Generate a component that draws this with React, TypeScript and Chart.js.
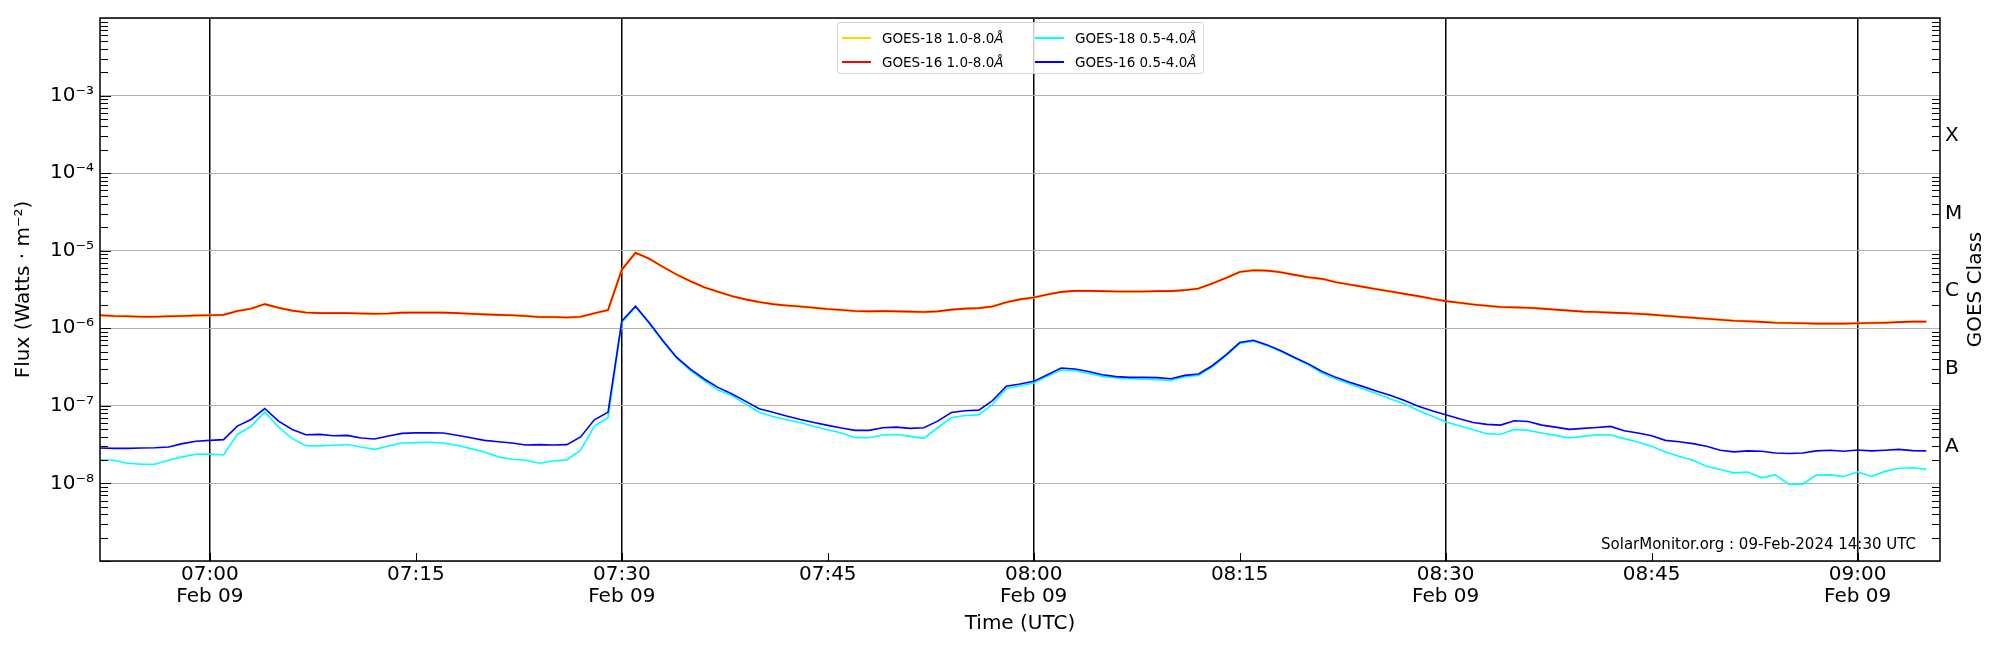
import { useEffect, useRef } from "react"
import { Chart, registerables } from "chart.js"

Chart.register(...registerables)

// one sample per minute, starting at 06:52 UTC on Feb 09
const startTime = "06:52"
const endTime = "09:06"
const dateLabel = "Feb 09"
const tickTimes = ["07:00", "07:15", "07:30", "07:45", "08:00", "08:15", "08:30", "08:45", "09:00"]
const yExponents = [-8, -7, -6, -5, -4, -3]
const classLabels = ["A", "B", "C", "M", "X"]
const classLevels = [3e-8, 3e-7, 3e-6, 3e-5, 3e-4]

// GOES-16 1.0-8.0 Å, in units of 1e-6 W/m²
const goes16Long = [
  1.47, 1.44, 1.43, 1.41, 1.41, 1.43, 1.44, 1.46, 1.47, 1.49,
  1.67, 1.79, 2.05, 1.84, 1.69, 1.6, 1.57, 1.57, 1.57, 1.55,
  1.54, 1.55, 1.59, 1.59, 1.59, 1.59, 1.57, 1.54, 1.51, 1.49,
  1.47, 1.44, 1.4, 1.4, 1.38, 1.41, 1.56, 1.72, 5.7, 9.43,
  7.89, 6.18, 4.92, 4.05, 3.39, 2.95, 2.6, 2.36, 2.18, 2.05,
  1.97, 1.91, 1.84, 1.77, 1.72, 1.67, 1.65, 1.67, 1.65, 1.64,
  1.62, 1.65, 1.74, 1.79, 1.82, 1.91, 2.16, 2.36, 2.49, 2.73,
  2.95, 3.04, 3.04, 3.01, 2.98, 2.98, 2.98, 3.01, 3.01, 3.1,
  3.26, 3.78, 4.46, 5.33, 5.6, 5.54, 5.27, 4.88, 4.55, 4.34,
  3.93, 3.66, 3.42, 3.19, 2.98, 2.78, 2.6, 2.4, 2.24, 2.13,
  2.03, 1.95, 1.88, 1.86, 1.84, 1.79, 1.74, 1.69, 1.64, 1.62,
  1.59, 1.57, 1.54, 1.5, 1.45, 1.41, 1.37, 1.33, 1.29, 1.25,
  1.23, 1.21, 1.18, 1.17, 1.16, 1.15, 1.15, 1.15, 1.16, 1.17,
  1.18, 1.2, 1.22, 1.22,
]

// GOES-18 1.0-8.0 Å lies right under the GOES-16 curve
const goes18Long = [...goes16Long]

// GOES-16 0.5-4.0 Å, in units of 1e-8 W/m²
const goes16Short = [
  2.86, 2.83, 2.83, 2.86, 2.88, 2.95, 3.26, 3.49, 3.59, 3.67,
  5.48, 6.68, 9.24, 6.36, 4.97, 4.25, 4.29, 4.12, 4.16, 3.85,
  3.74, 4.08, 4.42, 4.49, 4.51, 4.47, 4.17, 3.89, 3.59, 3.45,
  3.32, 3.13, 3.16, 3.13, 3.16, 3.97, 6.62, 8.29, 124, 193,
  118, 68.9, 42.1, 29.8, 22.2, 17.3, 14.3, 11.5, 9.16, 8.29,
  7.38, 6.68, 6.11, 5.6, 5.17, 4.83, 4.83, 5.22, 5.32, 5.12,
  5.22, 6.36, 8.22, 8.63, 8.8, 11.7, 17.9, 19.1, 20.7, 25.2,
  30.7, 29.8, 27.8, 25.2, 23.8, 23.3, 23.3, 23.1, 22.4, 24.7,
  25.7, 32.9, 45.5, 65.5, 70.2, 61.1, 51.2, 42.1, 34.8, 27.8,
  23.3, 20.1, 17.7, 15.4, 13.6, 11.7, 9.91, 8.63, 7.67, 6.81,
  6.11, 5.77, 5.65, 6.42, 6.3, 5.65, 5.32, 4.97, 5.12, 5.27,
  5.43, 4.78, 4.47, 4.12, 3.59, 3.45, 3.26, 3.01, 2.68, 2.55,
  2.63, 2.6, 2.47, 2.43, 2.47, 2.63, 2.68, 2.6, 2.7, 2.63,
  2.68, 2.75, 2.65, 2.63,
]

// GOES-18 0.5-4.0 Å, in units of 1e-8 W/m²
const goes18Short = [
  2.01, 1.99, 1.82, 1.77, 1.77, 1.99, 2.2, 2.38, 2.4, 2.33,
  4.28, 5.43, 8.29, 5.34, 3.78, 3.07, 3.04, 3.1, 3.17, 2.95,
  2.75, 3.04, 3.32, 3.36, 3.4, 3.32, 3.1, 2.81, 2.55, 2.2,
  2.05, 1.99, 1.82, 1.95, 2.01, 2.68, 5.43, 7.02, 118, 188,
  115, 66.8, 40.8, 28.4, 21.1, 16.0, 13.6, 10.6, 8.29, 7.3,
  6.62, 6.11, 5.43, 4.92, 4.47, 3.89, 3.89, 4.21, 4.28, 4.04,
  3.81, 5.22, 7.02, 7.52, 7.66, 10.4, 16.7, 18.0, 19.7, 24.0,
  29.0, 28.4, 26.2, 24.0, 22.9, 22.4, 22.0, 21.8, 21.3, 23.8,
  24.7, 31.9, 44.2, 63.5, 68.1, 59.4, 50.2, 41.2, 33.9, 26.2,
  22.2, 19.1, 16.5, 14.3, 12.3, 10.6, 8.71, 7.38, 6.18, 5.54,
  4.92, 4.38, 4.28, 4.97, 4.83, 4.47, 4.16, 3.85, 4.04, 4.25,
  4.21, 3.78, 3.42, 3.01, 2.55, 2.24, 1.99, 1.67, 1.51, 1.37,
  1.4, 1.18, 1.29, 0.98, 0.98, 1.28, 1.29, 1.23, 1.41, 1.23,
  1.43, 1.57, 1.59, 1.53,
]

const legendItems = [
  { name: "GOES-18 1.0-8.0", color: "#ffd700", col: 0, row: 0 },
  { name: "GOES-16 1.0-8.0", color: "#ff0000", col: 0, row: 1 },
  { name: "GOES-18 0.5-4.0", color: "#00ffff", col: 1, row: 0 },
  { name: "GOES-16 0.5-4.0", color: "#0000ff", col: 1, row: 1 },
]

const FONT = "'DejaVu Sans', sans-serif"

const toMinutes = (t: string) => {
  const [h, m] = t.split(":").map(Number)
  return h * 60 + m
}
const t0 = toMinutes(startTime)

const SUP: Record<string, string> = {
  "-": "\u207b", "0": "\u2070", "1": "\u00b9", "2": "\u00b2", "3": "\u00b3",
  "4": "\u2074", "5": "\u2075", "6": "\u2076", "7": "\u2077", "8": "\u2078", "9": "\u2079",
}
const sup = (n: number) => String(n).split("").map((c) => SUP[c]).join("")

const toPoints = (vals: number[], unit: number) => vals.map((v, i) => ({ x: i, y: v * unit }))

const decorPlugin = {
  id: "decor",
  afterDraw(chart: any) {
    const { ctx, chartArea: a, scales } = chart
    const y = scales.y
    ctx.save()
    ctx.strokeStyle = "#000"
    ctx.lineWidth = 1
    ctx.beginPath()
    for (let e = -9; e < -2; e++) {
      for (let k = 1; k <= 9; k++) {
        const py = Math.round(y.getPixelForValue(k * Math.pow(10, e))) + 0.5
        const len = k === 1 ? 11 : 8
        ctx.moveTo(a.left, py)
        ctx.lineTo(a.left + len, py)
        if (k > 1) {
          ctx.moveTo(a.right, py)
          ctx.lineTo(a.right - 8, py)
        }
      }
    }
    for (const t of tickTimes) {
      const px = Math.round(scales.x.getPixelForValue(toMinutes(t) - t0)) + 0.5
      ctx.moveTo(px, a.bottom)
      ctx.lineTo(px, a.bottom - 8)
    }
    ctx.stroke()

    ctx.lineWidth = 1.5
    ctx.strokeRect(a.left, a.top, a.right - a.left, a.bottom - a.top)

    ctx.fillStyle = "#000"
    ctx.font = `15px ${FONT}`
    ctx.textAlign = "right"
    ctx.textBaseline = "alphabetic"
    ctx.fillText("SolarMonitor.org : 09-Feb-2024 14:30 UTC", 1916, 549)

    ctx.translate(1976, (a.top + a.bottom) / 2)
    ctx.rotate(-Math.PI / 2)
    ctx.font = `20px ${FONT}`
    ctx.textAlign = "center"
    ctx.textBaseline = "middle"
    ctx.fillText("GOES Class", 0, 0)
    ctx.restore()
  },
}

export default function App() {
  const chartRef = useRef<HTMLCanvasElement>(null)
  const chartInstance = useRef<Chart | null>(null)

  useEffect(() => {
    document.body.style.margin = "0"
    if (!chartRef.current) return
    const ctx = chartRef.current.getContext("2d")
    if (!ctx) return

    const halfHours = new Set(tickTimes.filter((t) => toMinutes(t) % 30 === 0).map((t) => toMinutes(t) - t0))

    chartInstance.current = new Chart(ctx, {
      type: "line",
      data: {
        datasets: [
          { label: "GOES-18 1.0-8.0Å", data: toPoints(goes18Long, 1e-6), borderColor: "#ffd700", borderWidth: 2.4, order: 1 },
          { label: "GOES-18 0.5-4.0Å", data: toPoints(goes18Short, 1e-8), borderColor: "#00ffff", borderWidth: 1.6, order: 3 },
          { label: "GOES-16 1.0-8.0Å", data: toPoints(goes16Long, 1e-6), borderColor: "#ff0000", borderWidth: 1.6, order: 0 },
          { label: "GOES-16 0.5-4.0Å", data: toPoints(goes16Short, 1e-8), borderColor: "#0000ff", borderWidth: 1.6, order: 2 },
        ].map((d) => ({ ...d, pointRadius: 0, tension: 0, fill: false, yAxisID: "y" })),
      },
      options: {
        responsive: false,
        animation: false,
        layout: { padding: { top: 15, left: 0, right: 0, bottom: 0 } },
        plugins: {
          legend: { display: false },
          tooltip: { enabled: false },
        },
        scales: {
          x: {
            type: "linear",
            min: 0,
            max: toMinutes(endTime) - t0,
            afterFit: (s: any) => {
              s.height = 89
            },
            afterBuildTicks: (s: any) => {
              s.ticks = tickTimes.map((t) => ({ value: toMinutes(t) - t0 }))
            },
            ticks: {
              autoSkip: false,
              maxRotation: 0,
              padding: 3,
              color: "#000",
              font: { family: FONT, size: 20, lineHeight: 1.1 },
              callback: (_v: any, i: number) =>
                toMinutes(tickTimes[i]) % 30 === 0 ? [tickTimes[i], dateLabel] : tickTimes[i],
            },
            grid: {
              drawTicks: false,
              lineWidth: 1.5,
              color: (c: any) => (c.tick && halfHours.has(c.tick.value) ? "#000" : "rgba(0,0,0,0)"),
            },
            border: { display: false },
            title: {
              display: true,
              text: "Time (UTC)",
              color: "#000",
              font: { family: FONT, size: 20 },
              padding: { top: 0, bottom: 14 },
            },
          },
          y: {
            type: "logarithmic",
            position: "left",
            min: 1e-9,
            max: 1e-2,
            afterFit: (s: any) => {
              s.width = 100
            },
            afterBuildTicks: (s: any) => {
              s.ticks = [-9, -8, -7, -6, -5, -4, -3, -2].map((e) => ({ value: Math.pow(10, e) }))
            },
            ticks: {
              autoSkip: false,
              padding: 6,
              color: "#000",
              font: { family: FONT, size: 20 },
              callback: (v: any) => {
                const e = Math.round(Math.log10(Number(v)))
                return yExponents.includes(e) ? "10" + sup(e) : ""
              },
            },
            grid: { drawTicks: false, color: "#b0b0b0", lineWidth: 1 },
            border: { display: false },
            title: {
              display: true,
              text: "Flux (Watts \u00b7 m\u207b\u00b2)",
              color: "#000",
              font: { family: FONT, size: 20 },
              padding: { top: 12, bottom: 0 },
            },
          },
          y2: {
            type: "logarithmic",
            position: "right",
            min: 1e-9,
            max: 1e-2,
            afterFit: (s: any) => {
              s.width = 60
            },
            afterBuildTicks: (s: any) => {
              s.ticks = classLevels.map((v) => ({ value: v }))
            },
            ticks: {
              autoSkip: false,
              padding: 5,
              color: "#000",
              font: { family: FONT, size: 20 },
              callback: (_v: any, i: number) => classLabels[i],
            },
            grid: { display: false, drawTicks: false },
            border: { display: false },
          },
        },
      },
      plugins: [decorPlugin],
    } as any)

    return () => {
      if (chartInstance.current) {
        chartInstance.current.destroy()
      }
    }
  }, [])

  return (
    <div style={{ position: "relative", width: 2000, height: 650 }}>
      <canvas ref={chartRef} width={2000} height={650} style={{ display: "block", width: 2000, height: 650 }} />
      <div
        style={{
          position: "absolute",
          left: 837,
          top: 22,
          width: 367,
          height: 52,
          boxSizing: "border-box",
          background: "rgba(255,255,255,0.8)",
          border: "1px solid rgba(204,204,204,0.8)",
          borderRadius: 4,
          fontFamily: FONT,
          fontSize: 13.5,
          color: "#000",
        }}
      >
        {legendItems.map((it) => (
          <div key={it.name}>
            <div
              style={{
                position: "absolute",
                left: 4 + it.col * 193,
                top: 14 + it.row * 24,
                width: 29,
                height: 1.5,
                background: it.color,
              }}
            />
            <div
              style={{
                position: "absolute",
                left: 44 + it.col * 193,
                top: 6 + it.row * 24,
                lineHeight: "18px",
                whiteSpace: "nowrap",
              }}
            >
              {it.name}
              <i>Å</i>
            </div>
          </div>
        ))}
      </div>
    </div>
  )
}
